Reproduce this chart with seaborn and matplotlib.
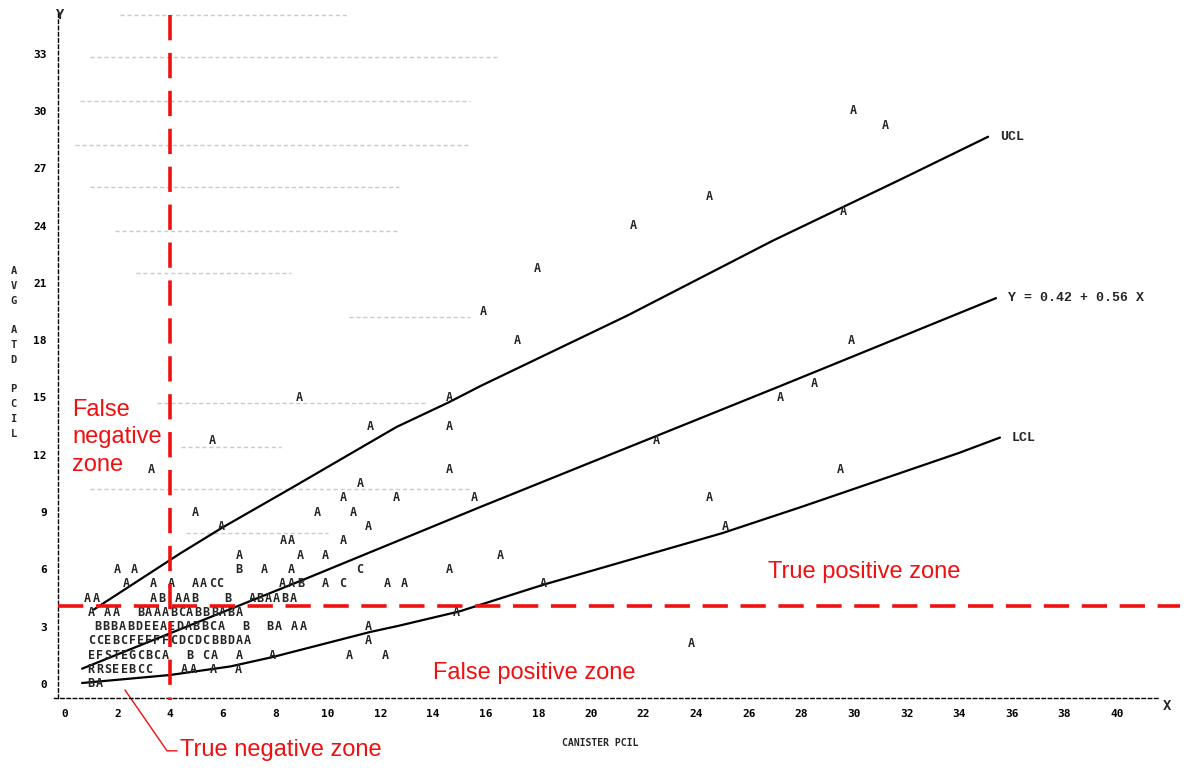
import matplotlib
matplotlib.use("Agg")
import matplotlib.pyplot as plt
import pandas as pd
import seaborn as sns

# --- data ---
# control limits and fitted line (canister pCi/L -> avg ATD pCi/L)
ucl_x = [1.1, 4.4, 6.0, 8.6, 12.6, 14.6, 15.8, 21.4, 26.9, 31.75, 35.1]
ucl_y = [3.9, 6.85, 8.2, 10.25, 13.45, 14.75, 15.6, 19.3, 23.2, 26.4, 28.65]
fit_x = [0.65, 9.05, 15.8, 27.2, 35.4]
fit_y = [0.8, 5.45, 9.27, 15.6, 20.2]
lcl_x = [0.65, 4.0, 6.3, 7.9, 11.6, 12.7, 15.0, 18.2, 25.0, 28.0, 34.0, 35.55]
lcl_y = [0.05, 0.47, 0.92, 1.41, 2.72, 3.05, 3.8, 5.2, 7.9, 9.27, 12.1, 12.9]

# isolated plot symbols (A = 1 obs, B = 2, C = 3 ...)
pt_x = [29.96, 31.2, 24.5, 21.6, 29.6, 17.95, 15.9, 17.2, 29.9, 28.5,
        8.9, 14.6, 27.2, 11.6, 14.6, 5.6, 22.5, 3.3, 14.6, 29.5,
        11.25, 10.6, 12.6, 15.55, 24.5, 4.95, 9.6, 10.95, 5.95, 11.55,
        25.1, 8.3, 8.6, 10.6, 6.65, 8.95, 9.9, 16.55,
        2.0, 2.65, 6.6, 7.6, 8.6, 11.2, 14.6,
        2.35, 3.35, 4.05, 4.95, 5.25, 5.6, 5.9, 8.25, 8.6, 8.95, 9.9, 10.55,
        12.25, 12.9, 18.2,
        14.9, 11.55, 11.55, 23.8, 6.65, 7.9, 10.8, 12.2, 4.55, 4.87, 5.63, 6.58]
pt_y = [30.0, 29.25, 25.5, 24.0, 24.75, 21.75, 19.5, 18.0, 18.0, 15.75,
        15.0, 15.0, 15.0, 13.5, 13.5, 12.75, 12.75, 11.25, 11.25, 11.25,
        10.5, 9.75, 9.75, 9.75, 9.75, 9.0, 9.0, 9.0, 8.25, 8.25,
        8.25, 7.5, 7.5, 7.5, 6.75, 6.75, 6.75, 6.75,
        6.0, 6.0, 6.0, 6.0, 6.0, 6.0, 6.0,
        5.25, 5.25, 5.25, 5.25, 5.25, 5.25, 5.25, 5.25, 5.25, 5.25, 5.25, 5.25,
        5.25, 5.25, 5.25,
        3.75, 3.0, 2.25, 2.1, 1.5, 1.5, 1.5, 1.5, 0.75, 0.75, 0.75, 0.75]
pt_sym = ["A"] * 38 + ["A", "A", "B", "A", "A", "C", "A"] + \
         ["A", "A", "A", "A", "A", "C", "C", "A", "A", "B", "A", "C", "A", "A", "A"] + \
         ["A"] * 12

# dense line-printer rows near the origin
row_y = [0.0, 0.75, 1.5, 2.25, 3.0, 3.75, 4.5]
row_x0 = [1.0, 1.0, 1.0, 1.0, 1.25, 1.0, 0.87]
row_text = ["BA",
            "RRSEEBCC",
            "EFSTEGCBCA  B CA",
            "CCEBCFEFFFCDCDCBBDAA",
            "BBBABDEEAEDABBCA  B  BA AA",
            "A AA  BAAABCABBBABA",
            "AA      AB AAB   B  ABAABA"]
col_w = 0.312

# faint scan streaks in the original (y, x start, x end)
streak_y = [35.0, 32.8, 30.5, 28.2, 26.0, 23.7, 21.5, 19.2, 14.7, 12.4, 10.2, 7.9]
streak_x0 = [2.1, 0.95, 0.57, 0.4, 0.95, 1.9, 2.7, 10.8, 3.5, 4.4, 0.95, 4.6]
streak_x1 = [10.8, 16.5, 15.4, 15.4, 12.7, 12.7, 8.6, 15.4, 13.8, 8.2, 15.4, 10.0]

x_ticks = list(range(0, 41, 2))
y_ticks = list(range(0, 34, 3))
cutoff_x = 4.0
cutoff_y = 4.1

MONO = ["DejaVu Sans Mono"]
TYPE = ["Liberation Mono", "DejaVu Sans Mono"]
SANS = ["Liberation Sans", "DejaVu Sans"]
RED = "#f01010"

sns.set_theme(style="white")
plt.rcParams['font.family'] = ['DejaVu Sans']

fig = plt.figure(figsize=(11.88, 7.68), dpi=100)
ax = fig.add_axes([0, 0, 1, 1])
ax.set_xlim(-2.47, 42.70)
ax.set_ylim(-4.40, 35.81)
ax.patch.set_alpha(0)

# scan streaks
for y, a, b in zip(streak_y, streak_x0, streak_x1):
    ax.plot([a, b], [y, y], color="#a0a0a0", lw=1.0, ls=(0, (3, 2)), alpha=0.55, zorder=1)

# printer-style axes
for side in ["top", "right"]:
    ax.spines[side].set_visible(False)
ax.spines["left"].set_position(("data", -0.27))
ax.spines["left"].set_bounds(-0.73, 35.2)
ax.spines["bottom"].set_position(("data", -0.73))
ax.spines["bottom"].set_bounds(-0.4, 41.6)
for side in ["left", "bottom"]:
    ax.spines[side].set_linestyle((0, (2.5, 2)))
    ax.spines[side].set_linewidth(1.0)
    ax.spines[side].set_color("black")
ax.set_xticks(x_ticks)
ax.set_yticks(y_ticks)
ax.tick_params(direction="inout", length=6, width=1.2, labelsize=8, pad=5, colors="black")
for lbl in ax.get_xticklabels() + ax.get_yticklabels():
    lbl.set_fontweight("bold")
    lbl.set_family(MONO)

ax.text(-0.19, 35.05, "Y", fontsize=10, fontweight="bold", family=MONO, ha="center", va="center")
ax.text(41.9, -1.15, "X", fontsize=10, fontweight="bold", family=MONO, ha="center", va="center")
ax.text(-1.95, 17.36, "A\nV\nG\n\nA\nT\nD\n\nP\nC\nI\nL", fontsize=7.5, fontweight="bold",
        family=MONO, ha="center", va="center", linespacing=1.6)
ax.text(20.34, -3.09, "CANISTER PCIL", fontsize=7, fontweight="bold", family=MONO,
        ha="center", va="center")

# regression line and control limits
curves = pd.concat([
    pd.DataFrame({"x": ucl_x, "y": ucl_y, "curve": "UCL"}),
    pd.DataFrame({"x": fit_x, "y": fit_y, "curve": "fit"}),
    pd.DataFrame({"x": lcl_x, "y": lcl_y, "curve": "LCL"}),
])
sns.lineplot(data=curves, x="x", y="y", units="curve", estimator=None, sort=False,
             color="black", lw=1.6, ax=ax, zorder=3)
ax.set_xlabel("")
ax.set_ylabel("")

ax.text(ucl_x[-1] + 0.45, ucl_y[-1], "UCL", fontsize=9.5, fontweight="bold", family=TYPE, va="center")
ax.text(fit_x[-1] + 0.45, fit_y[-1], "Y = 0.42 + 0.56 X", fontsize=9.5, fontweight="bold",
        family=TYPE, va="center")
ax.text(lcl_x[-1] + 0.45, lcl_y[-1], "LCL", fontsize=9.5, fontweight="bold", family=TYPE, va="center")

# plot symbols
for x, y, s in zip(pt_x, pt_y, pt_sym):
    ax.text(x, y, s, fontsize=8.5, fontweight="bold", family=MONO, ha="center", va="center", zorder=4)
for y, x0, row in zip(row_y, row_x0, row_text):
    for i, ch in enumerate(row):
        if ch != " ":
            ax.text(x0 + i * col_w, y, ch, fontsize=8.5, fontweight="bold", family=MONO,
                    ha="center", va="center", zorder=4)

# red cutoff overlay
ax.plot([cutoff_x, cutoff_x], [35.0, -0.84], color=RED, lw=2.6, ls=(0, (7, 3.5)), zorder=5)
ax.plot([-0.27, 42.4], [cutoff_y, cutoff_y], color=RED, lw=2.6, ls=(0, (7, 3.5)), zorder=5)

for y, word in zip([14.35, 12.94, 11.47], ["False", "negative", "zone"]):
    ax.text(0.27, y, word, color=RED, fontsize=17, family=SANS, ha="left", va="center")
ax.text(26.73, 5.86, "True positive zone", color=RED, fontsize=17, family=SANS,
        ha="left", va="center")
ax.text(13.99, 0.58, "False positive zone", color=RED, fontsize=17, family=SANS,
        ha="left", va="center")
ax.text(4.37, -3.46, "True negative zone", color=RED, fontsize=17, family=SANS,
        ha="left", va="center")
ax.plot([2.28, 3.88, 4.26], [-0.31, -3.5, -3.5], color=RED, lw=1.0, clip_on=False)

fig.savefig("out.png", dpi=100)
